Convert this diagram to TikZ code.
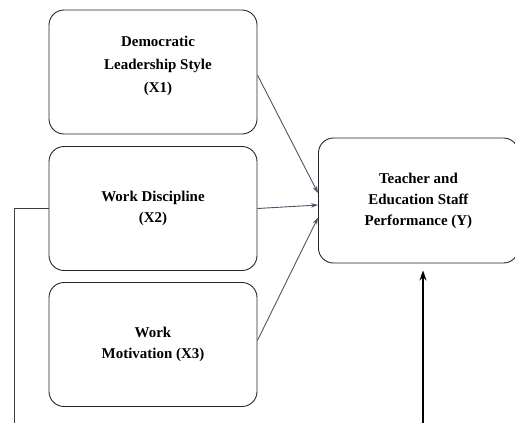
\documentclass[tikz,border=0pt]{standalone}
\usepackage{fontspec}
\setmainfont{Liberation Serif}
\usepackage{tikz}
\usetikzlibrary{arrows.meta,positioning}
\definecolor{slate}{HTML}{4A5568}

\begin{document}
\begin{tikzpicture}[x=1bp, y=-1bp,
  every node/.style={font=\bfseries\fontsize{15}{21}\selectfont, align=center},
  var/.style={draw=black!85, line width=0.9pt, rounded corners=15bp,
    minimum width=208bp, minimum height=124bp, inner sep=2pt},
  dep/.style={var, minimum width=200bp, minimum height=125bp},
  wide/.style={font=\bfseries\fontsize{15}{23.5}\selectfont},
  link/.style={draw=slate, line width=0.9pt, -{Stealth[length=7bp,width=4.5bp]}},
  guide/.style={draw=black!75, line width=0.9pt},
  up/.style={draw=black, line width=1.5pt, -{Stealth[length=10bp,width=7bp]}}]
  \useasboundingbox (0,0) rectangle (515,423);
  % independent variables
  \node[var, wide] (x1) at (153,72) {\hspace*{10bp}Democratic\\\hspace*{10bp}Leadership Style\\\hspace*{10bp}(X1)\\[-8bp]};
  \node[var] (x2) at (153,208.5) {Work Discipline\\(X2)};
  \node[var] (x3) at (153,344.5) {Work\\Motivation (X3)};
  % dependent variable
  \node[dep, anchor=west] (y) at (318,200.5) {Teacher and\\Education Staff\\Performance (Y)};
  % edges
  \draw[link] (x1.east) ++(0,3) -- ([yshift=7.5bp]y.west);
  \draw[link] (x2.east) -- ([yshift=-4.5bp]y.west);
  \draw[link] (x3.east) ++(0,-4) -- ([yshift=-17bp]y.west);
  % side line and bottom arrow
  \coordinate (cornerA) at (14,208);
  \coordinate (endA) at (14,423);
  \draw[guide] (x2.west |- cornerA) -- (cornerA) -- (endA);
  \coordinate (startB) at (423,423);
  \draw[up] (startB) -- ([yshift=-7bp]y.south -| startB);
\end{tikzpicture}
\end{document}
